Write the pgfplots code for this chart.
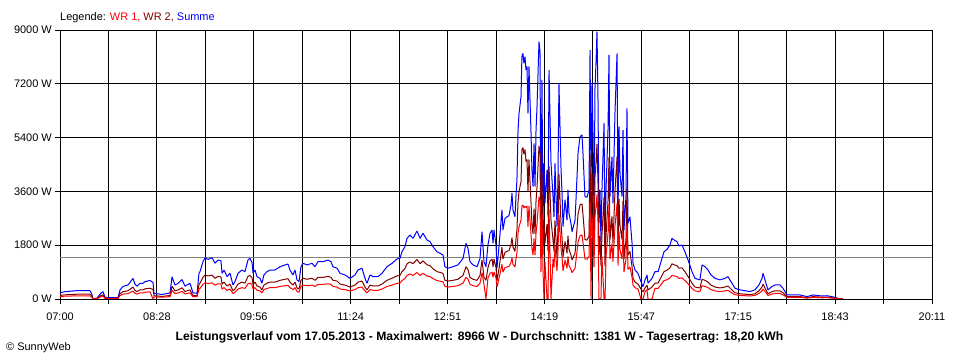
\documentclass[border=0pt]{standalone}
\usepackage{pgfplots}
\pgfplotsset{compat=1.18}
\usepackage{pgfplotstable}
\usepackage{fontspec}
\setmainfont{Liberation Sans}
\definecolor{wrzwei}{RGB}{128,0,0}
\definecolor{wreins}{RGB}{255,0,0}
\definecolor{summe}{RGB}{0,0,255}
\definecolor{avg}{RGB}{128,128,128}

% t = minutes after 07:00, s = Summe, w2 = WR 2, w1 = WR 1 (W)
\pgfplotstableread{
t s w2 w1
0 210 120 80
4.5 245 140 95
15.4 280 160 105
27.2 280 160 105
29.0 150 90 55
29.9 0 0 0
33.6 30 20 10
37.2 200 115 75
39.0 245 140 95
40.8 60 35 20
43.5 45 25 15
52.6 45 25 15
54.4 300 175 115
57.1 420 245 160
61.7 470 275 180
64.4 600 350 230
66.2 690 400 265
68.0 500 290 195
69.8 430 250 165
72.6 525 305 205
75.3 525 305 205
77.1 580 340 225
81.6 620 360 240
84.4 550 320 0
85.3 190 110 75
88.9 170 100 65
92.5 150 85 60
98.0 190 110 75
99.8 200 115 80
101.6 745 430 290
104.3 470 275 185
107.0 520 300 200
110.7 650 375 255
113.4 430 250 170
117.9 525 305 205
120.6 210 120 80
124.3 190 110 75
126.1 860 500 335
127.0 915 530 355
129.7 1250 725 490
131.5 1380 800 540
134.3 1325 770 515
137.9 1380 800 540
140.6 1195 695 465
143.3 1305 755 510
146.0 1280 740 500
147.0 860 500 335
148.8 970 565 380
151.5 750 435 290
154.2 860 500 335
156.9 470 275 185
158.7 580 335 225
161.5 860 500 335
165.1 970 565 380
167.8 915 530 355
170.5 1305 755 510
172.3 1360 790 530
174.2 1220 710 475
175.1 860 500 335
176.9 970 565 380
178.7 750 435 290
181.4 690 400 270
183.2 525 305 205
185.0 805 465 315
187.8 915 530 355
190.5 970 565 380
195.0 970 565 380
199.6 1080 625 420
204.1 1140 660 445
206.8 1170 680 455
208.6 970 565 380
211.3 805 465 315
213.2 970 565 380
215.0 640 370 250
216.8 580 335 225
218.6 1080 625 420
220.4 1195 695 465
224.1 1140 660 445
228.6 1195 695 465
231.3 1080 625 420
234.0 1250 725 490
238.6 1250 725 490
243.1 1305 755 510
245.8 1250 725 490
247.6 1080 625 420
251.3 1030 600 400
254.0 860 500 335
258.5 805 465 315
263.1 690 400 270
267.6 805 465 315
270.3 970 565 380
273.9 1030 600 400
276.7 690 400 270
278.5 525 305 205
281.2 805 465 315
283.9 750 435 290
288.5 750 435 290
292.1 860 500 335
296.6 1080 625 420
301.2 1195 695 465
305.7 1340 775 525
308.4 1360 790 530
310.2 1580 915 615
312.9 1750 1015 685
314.8 2030 1180 790
317.5 2140 1240 835
320.2 2030 1180 790
323.8 2275 1320 885
326.6 2030 1180 790
329.3 2200 1275 860
332.9 1975 1145 770
335.6 1920 1115 750
338.3 1750 1015 685
342.0 1580 915 615
344.7 1530 890 595
347.4 1470 855 575
349.2 1080 625 420
352.0 1030 600 400
356.5 1080 625 420
361.0 1140 660 445
365.6 1360 790 530
368.3 1865 1080 725
370.1 1695 985 660
371.9 1250 725 490
374.6 1140 660 445
378.3 1080 625 420
381.0 1360 790 530
382.8 2250 1305 880
384.6 1250 725 490
386.4 1080 625 0
388.2 1810 1050 705
390.1 2200 1275 860
391.9 2310 1340 900
392.8 1865 1080 725
393.7 2310 1340 900
395.5 1810 1050 705
396.4 1040 605 405
398.2 1750 1015 685
400.9 2980 1730 1160
401.8 2310 1340 900
403.7 2700 1565 1055
405.5 2750 1595 1070
407.3 2790 1620 1090
409.1 3145 1825 1225
410.0 3540 2055 1380
410.9 2980 1730 1160
412.7 2750 1595 1070
413.6 3430 1990 1340
414.5 3980 2310 1550
415.5 5650 3280 2200
416.4 6210 3600 2420
418.2 6770 3930 2640
419.0 8110 5000 3110
419.9 8220 5070 3150
420.8 7890 4850 3040
421.8 8110 5000 3110
422.7 7660 4600 3060
423.6 7780 4670 3110
424.5 6210 3600 2420
425.4 7780 4670 3110
427.2 5650 3280 2200
428.1 4320 2500 1690
429.1 3760 2180 1470
430.0 5210 3020 2030
430.9 3760 2180 1470
431.8 5650 3280 2200
432.7 6430 3730 2510
434.5 8610 5120 3420
435.4 8275 4900 3300
436.3 2310 1340 900
437.2 7330 4250 2860
438.1 2530 1470 990
439.0 4540 2630 0
439.9 3200 1860 1250
441.8 4320 2500 0
442.7 2750 1595 0
443.6 7660 4440 2990
445.4 4540 2630 0
447.2 3430 1990 1340
448.1 2750 1595 1070
449.0 4540 2630 1770
450.8 2420 1400 945
451.7 3980 2310 1550
452.6 7220 4190 2820
454.5 4320 2500 1690
455.4 3540 2055 1380
456.3 2420 1400 945
458.1 3320 1925 1295
459.9 2640 1530 1030
460.8 3650 2115 1425
461.7 2870 1665 1120
463.5 2530 1470 990
464.5 2250 1305 880
467.2 2640 1530 1030
469.0 4090 2370 1595
469.9 4875 2830 1900
471.7 5430 3150 2120
473.5 5490 3180 2140
474.4 4875 2830 1900
476.2 3430 1990 1340
478.0 3400 1970 1330
479.9 3650 2115 1425
480.8 8330 4830 3250
481.7 3650 2115 0
482.6 7220 4190 2820
483.5 5540 3210 2160
484.4 2750 1595 1070
485.3 7050 4090 2750
486.2 7890 4575 3080
487.1 8945 5190 3490
488.0 6770 3930 2640
488.9 2530 1470 0
489.8 3650 2115 0
490.7 1920 1115 0
491.6 3650 2115 1425
493.5 5880 3410 0
494.4 1865 1080 0
495.3 3650 2115 1425
497.1 5650 3280 2200
498.0 8165 4740 3185
498.9 3430 1990 1340
500.7 4760 2760 1855
501.6 3200 1860 1250
503.4 6210 3600 2420
505.3 8220 4770 3200
506.2 2870 1665 1120
507.1 5770 3350 2250
508.0 4200 2435 1640
509.8 3430 1990 1340
510.7 5650 3280 2200
511.6 2310 1340 900
513.4 3430 1990 1340
514.3 6380 3700 2490
515.2 2530 1470 990
517.0 2750 1595 1070
518.9 1865 1080 730
519.8 1195 695 465
521.6 970 565 380
524.3 860 500 335
527.0 580 335 0
528.8 410 240 0
530.7 640 370 250
532.5 805 465 315
533.4 530 305 0
537.0 690 400 0
539.7 915 530 355
542.5 915 530 355
546.1 1360 790 530
547.9 1580 915 615
550.6 1660 965 645
553.3 1805 1045 705
555.1 2030 1180 790
557.0 1975 1145 770
559.7 1920 1115 750
561.4 1775 1030 690
564.2 1805 1045 705
566.9 1580 915 615
569.7 1305 755 510
573.3 915 530 355
576.0 690 400 270
580.5 640 370 250
582.4 1140 660 445
585.1 1080 625 420
587.8 970 565 380
590.5 805 465 315
594.2 690 400 270
598.7 640 370 250
603.2 690 400 270
605.9 750 435 290
609.5 530 305 205
612.3 360 210 140
616.8 305 175 120
625.9 250 145 100
630.4 305 175 120
634.0 470 275 185
636.8 690 400 270
637.7 860 500 335
639.5 640 370 250
642.2 305 175 120
645.9 420 245 165
648.6 470 275 185
653.1 470 275 185
655.8 360 210 140
659.5 135 80 55
664.9 135 80 55
671.3 135 80 55
677.6 80 45 30
683.1 135 80 55
691.3 100 60 40
695.7 110 65 45
700.2 80 45 30
705.6 25 15 10
710.2 0 0 0
}\data

\begin{document}
\begin{tikzpicture}
\useasboundingbox (0,0) rectangle (960bp,360bp);
\begin{axis}[
  at={(60bp,61bp)}, anchor=south west,
  width=872bp, height=269bp, scale only axis,
  xmin=0, xmax=791, ymin=0, ymax=9000,
  enlargelimits=false, clip=true,
  axis line style={black, line width=1bp},
  xtick={0,43.94,87.89,131.83,175.78,219.72,263.67,307.61,351.56,395.5,439.44,483.39,527.33,571.28,615.22,659.17,703.11,747.06,791},
  xticklabels={07:00,,08:28,,09:56,,11:24,,12:51,,14:19,,15:47,,17:15,,18:43,,20:11},
  ytick={0,1800,3600,5400,7200,9000},
  yticklabels={0 W,1800 W,3600 W,5400 W,7200 W,9000 W},
  tick pos=left, tick align=outside,
  major tick length=5bp,
  tick style={black, line width=1bp},
  xmajorgrids, ymajorgrids,
  major grid style={black, line width=1bp},
  tick label style={font=\fontsize{11}{13}\selectfont, inner sep=0pt},
  xticklabel style={anchor=north, yshift=-8.8bp},
  yticklabel style={anchor=east, xshift=-3bp},
  every axis plot/.append style={line width=1bp, line join=bevel},
]
\addplot[avg, line width=1bp] coordinates {(0,1381) (791,1381)};
\addplot[summe] table[x=t, y=s] {\data};
\addplot[wrzwei] table[x=t, y=w2] {\data};
\addplot[wreins] table[x=t, y=w1] {\data};
\end{axis}
\node[anchor=base west, inner sep=0pt, font=\fontsize{11}{13}\selectfont] at (60bp,339.3bp)
  {Legende: \textcolor{wreins}{WR 1,} \textcolor{wrzwei}{WR 2,} \textcolor{summe}{Summe}};
\node[anchor=base, inner sep=0pt, font=\fontsize{12.2}{14}\selectfont\bfseries] at (479.5bp,19.3bp)
  {Leistungsverlauf vom 17.05.2013 - Maximalwert: 8966 W - Durchschnitt: 1381 W - Tagesertrag: 18,20 kWh};
\node[anchor=base west, inner sep=0pt, font=\fontsize{11}{13}\selectfont] at (6bp,10bp)
  {© SunnyWeb};
\end{tikzpicture}
\end{document}
